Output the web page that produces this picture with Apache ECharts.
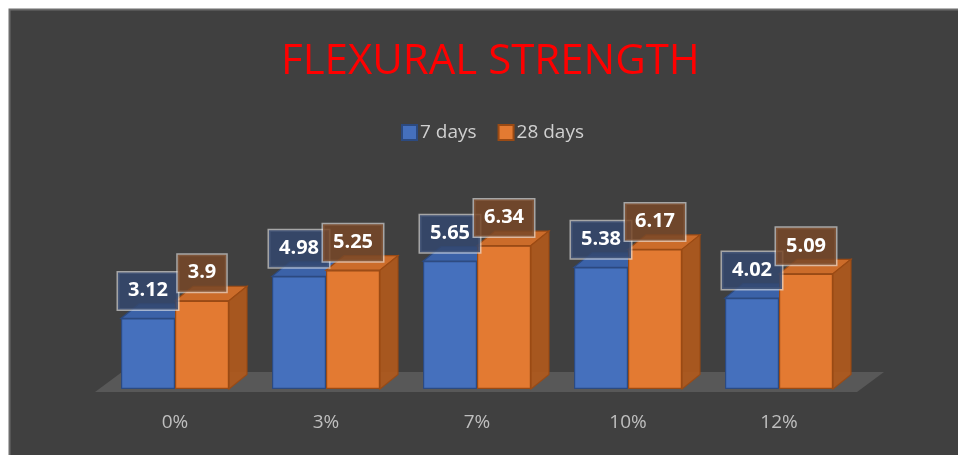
<!DOCTYPE html>
<html>
<head>
<meta charset="utf-8">
<script src="https://cdn.jsdelivr.net/npm/echarts@6/dist/echarts.min.js"></script>
<style>
html,body{margin:0;padding:0;background:#fff;}
#c{width:958px;height:455px;}
</style>
</head>
<body>
<div id="c"></div>
<script>
var categories = ['0%', '3%', '7%', '10%', '12%'];
var days7 = [3.12, 4.98, 5.65, 5.38, 4.02];
var days28 = [3.9, 5.25, 6.34, 6.17, 5.09];
var seriesNames = ['7 days', '28 days'];
var titleText = 'FLEXURAL STRENGTH';

var BAR_W = 54, DX = 18, DY = 14.5;
var FONT = 'Open Sans';

function make3d(isOrange, topColor, sideColor, border) {
  return function (params, api) {
    var cat = api.value(0), v = api.value(1);
    var top = api.coord([cat, v]);
    var base = api.coord([cat, 0]);
    var x0 = isOrange ? top[0] : top[0] - BAR_W;
    var x1 = x0 + BAR_W;
    var y = top[1];
    var children = [];
    children.push({
      type: 'polygon',
      shape: { points: [[x0, y], [x1, y], [x1 + DX, y - DY], [x0 + DX, y - DY]] },
      style: { fill: topColor, stroke: border, lineWidth: 1.2 }
    });
    if (isOrange) {
      children.push({
        type: 'polygon',
        shape: { points: [[x1, y], [x1 + DX, y - DY], [x1 + DX, base[1] - DY], [x1, base[1]]] },
        style: { fill: sideColor, stroke: border, lineWidth: 1.2, opacity: 0.92 }
      });
    }
    return { type: 'group', children: children };
  };
}

function pairs(arr) { return arr.map(function (v, i) { return [i, v]; }); }

function labelCfg(bg) {
  return {
    show: true, position: 'top', distance: 9,
    color: '#ffffff', fontFamily: FONT, fontWeight: 'bold', fontSize: 20, lineHeight: 22,
    backgroundColor: bg, borderColor: 'rgba(235,235,235,0.6)', borderWidth: 1.5,
    padding: [7, 10, 8, 10]
  };
}

var chart = echarts.init(document.getElementById('c'), null, { renderer: 'canvas' });
chart.setOption({
  backgroundColor: '#ffffff',
  animation: false,
  graphic: [
    { type: 'rect', z: -10, shape: { x: 9.5, y: 9.5, width: 960, height: 460 },
      style: { fill: '#404040', stroke: '#6c6c6c', lineWidth: 2 } },
    { type: 'polygon', z: -5, shape: { points: [[95, 392], [857, 392], [884, 372], [122, 372]] },
      style: { fill: '#585858' } }
  ],
  title: {
    text: titleText, left: 281, top: 41, padding: 0,
    textStyle: { color: '#ff0000', fontFamily: FONT, fontSize: 42, fontWeight: 'normal' }
  },
  legend: {
    data: seriesNames, left: 396, top: 118, itemWidth: 15, itemHeight: 15, itemGap: 21,
    icon: 'rect',
    textStyle: { color: '#d0d0d0', fontFamily: FONT, fontSize: 19, padding: [0, 0, 0, -2] }
  },
  grid: { left: 99.5, right: 103.5, top: 208, bottom: 66, containLabel: false },
  xAxis: {
    type: 'category', data: categories,
    axisLine: { show: false }, axisTick: { show: false },
    axisLabel: { color: '#bfbfbf', fontFamily: FONT, fontSize: 19, margin: 24 }
  },
  yAxis: { type: 'value', min: 0, max: 8, show: false, splitLine: { show: false } },
  series: [
    {
      name: seriesNames[0], type: 'bar', data: days7, barWidth: BAR_W, barGap: '0%',
      itemStyle: { color: '#4570bd', borderColor: '#2c4a80', borderWidth: 1.2 },
      label: labelCfg('rgba(52,72,110,0.85)')
    },
    {
      name: seriesNames[0], type: 'custom', data: pairs(days7),
      renderItem: make3d(false, '#3b62a8', '#34589a', '#2c4a80')
    },
    {
      name: seriesNames[1], type: 'bar', data: days28, barWidth: BAR_W, barGap: '0%',
      itemStyle: { color: '#e37a32', borderColor: '#9a4a14', borderWidth: 1.2 },
      label: labelCfg('rgba(120,72,40,0.85)')
    },
    {
      name: seriesNames[1], type: 'custom', data: pairs(days28),
      renderItem: make3d(true, '#cc6c2a', '#b0591c', '#9a4a14')
    }
  ]
});
</script>
</body>
</html>
